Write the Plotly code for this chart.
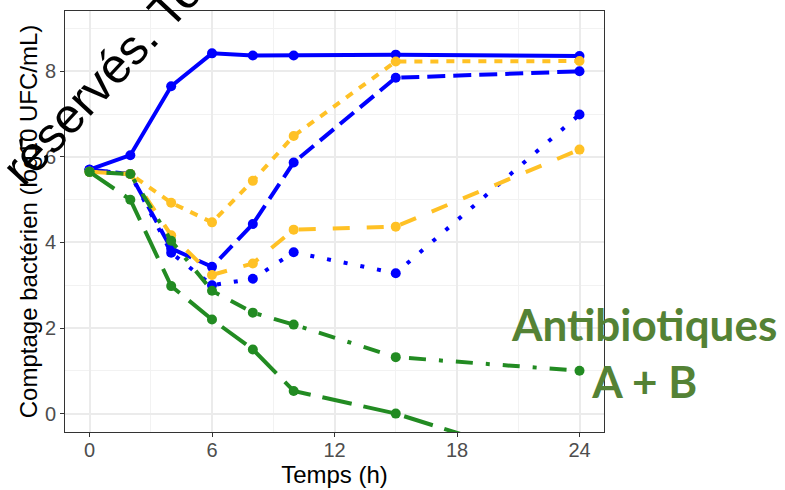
import plotly.graph_objects as go

# ---- data ----
temps = [0, 2, 4, 6, 8, 10, 15, 24]

bleu_plein = [5.70, 6.04, 7.65, 8.42, 8.37, 8.37, 8.39, 8.36]
bleu_tirets = [5.70, 5.60, 3.86, 3.43, 4.43, 5.87, 7.85, 8.00]
bleu_pointilles = [5.70, 5.60, 3.76, 3.00, 3.15, 3.77, 3.28, 6.99]
orange_tirets_courts = [5.65, 5.60, 4.93, 4.47, 5.44, 6.49, 8.23, 8.24]
orange_tirets = [5.65, 5.60, 4.17, 3.24, 3.51, 4.30, 4.37, 6.17]
vert_tiret_point = [5.65, 5.60, 4.04, 2.87, 2.36, 2.08, 1.32, 1.00]
vert_tirets_longs = [5.65, 5.00, 2.98, 2.20, 1.50, 0.53, 0.00, -1.35]

x_ticks = [0, 6, 12, 18, 24]
y_ticks = [0, 2, 4, 6, 8]

BLUE = "#0000FF"
ORANGE = "#FFC125"
GREEN = "#228B22"

series = [
    ("Bleu plein", bleu_plein, BLUE, "solid"),
    ("Bleu tirets", bleu_tirets, BLUE, "18px,8px"),
    ("Bleu pointillés", bleu_pointilles, BLUE, "4px,13px"),
    ("Orange tirets courts", orange_tirets_courts, ORANGE, "8px,8px"),
    ("Orange tirets", orange_tirets, ORANGE, "17px,17px"),
    ("Vert tiret-point", vert_tiret_point, GREEN, "4px,13px,17px,13px"),
    ("Vert tirets longs", vert_tirets_longs, GREEN, "30px,12px"),
]

fig = go.Figure()
for name, ys, col, dash in series:
    fig.add_trace(go.Scatter(
        x=temps, y=ys, name=name, mode="lines+markers",
        line=dict(color=col, width=4, dash=dash),
        marker=dict(color=col, size=10),
        showlegend=False,
    ))

FONT = "Liberation Sans, Arial, sans-serif"
grid = "#EBEBEB"
axis_common = dict(
    showline=True, mirror=True, linecolor="#333333", linewidth=1,
    ticks="outside", ticklen=4, tickcolor="#333333", tickwidth=1,
    showgrid=True, gridcolor=grid, gridwidth=1.5,
    zeroline=False, automargin=False,
    tickfont=dict(family=FONT, size=20, color="#4D4D4D"),
)

fig.update_xaxes(
    range=[-1.2, 25.2], tickvals=x_ticks, ticklabelstandoff=-4,
    minor=dict(showgrid=True, gridcolor="#F2F2F2", gridwidth=1, dtick=3, tick0=0),
    title=dict(text="Temps (h)", font=dict(family=FONT, size=24, color="black"), standoff=2),
    **axis_common,
)
fig.update_yaxes(
    range=[-0.43, 9.41], tickvals=y_ticks,
    minor=dict(showgrid=True, gridcolor="#F2F2F2", gridwidth=1, dtick=1, tick0=0),
    title=dict(text="Comptage bactérien (log10 UFC/mL)", font=dict(family=FONT, size=24, color="black"), standoff=0),
    **axis_common,
)

fig.add_annotation(
    text="<b>Antibiotiques<br>A + B</b>", xref="paper", yref="paper",
    x=1.074, y=0.19, xanchor="center", yanchor="middle", showarrow=False,
    font=dict(family="Lato, sans-serif", size=44, color="#548235"),
)
fig.add_annotation(
    text="réservés. To", xref="paper", yref="paper",
    x=0.0686, y=0.838, xanchor="center", yanchor="middle", showarrow=False,
    textangle=-47,
    font=dict(family=FONT, size=49, color="black"),
)

fig.update_layout(
    width=785, height=490,
    margin=dict(l=65, r=181, t=11, b=58),
    plot_bgcolor="white", paper_bgcolor="white",
)

fig.write_html("out.html")
